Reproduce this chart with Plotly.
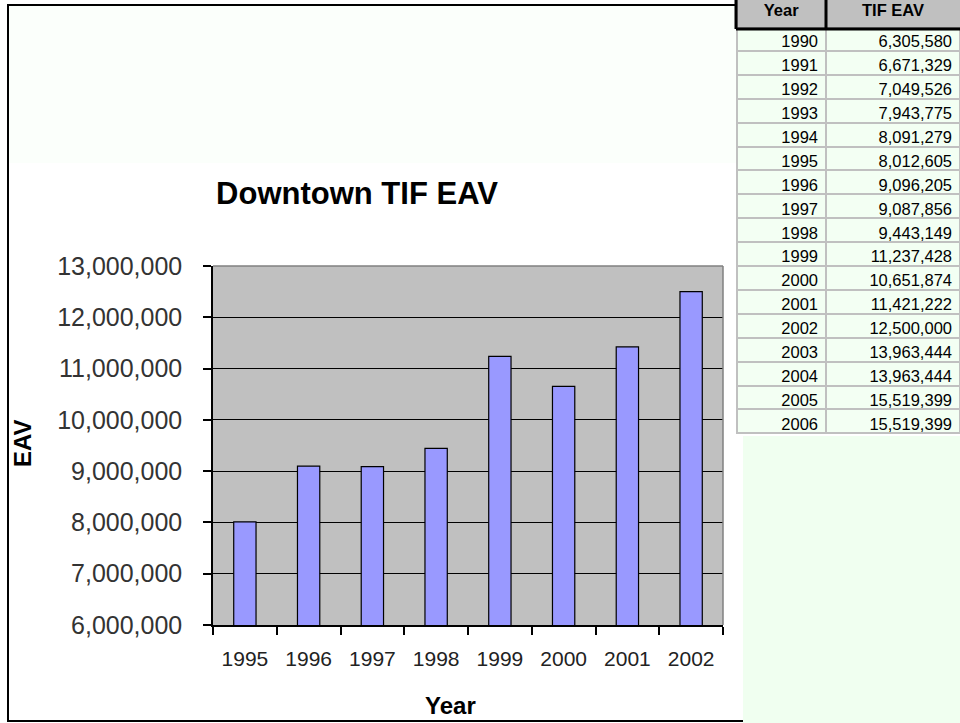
import plotly.graph_objects as go

# ---- data ----
table_columns = ["Year", "TIF EAV"]
table_years = [1990, 1991, 1992, 1993, 1994, 1995, 1996, 1997, 1998,
               1999, 2000, 2001, 2002, 2003, 2004, 2005, 2006]
table_eav = [6305580, 6671329, 7049526, 7943775, 8091279, 8012605, 9096205,
             9087856, 9443149, 11237428, 10651874, 11421222, 12500000,
             13963444, 13963444, 15519399, 15519399]

chart_years = ["1995", "1996", "1997", "1998", "1999", "2000", "2001", "2002"]
chart_eav = [8012605, 9096205, 9087856, 9443149, 11237428, 10651874, 11421222, 12500000]

y_ticks = [6000000, 7000000, 8000000, 9000000, 10000000, 11000000, 12000000, 13000000]

# figure is 7px taller than the window; the page is shifted up by OFF px
OFF = 7
W, H = 960, 723 + OFF
FONT = "Liberation Sans, Arial, sans-serif"


def px(x):
    return x / W


def py(y):
    # y: screen pixel from top of window
    return 1 - (y + OFF) / H


fig = go.Figure()

fig.add_trace(go.Bar(
    x=chart_years, y=chart_eav,
    marker=dict(color="#9999ff", line=dict(color="black", width=1.2)),
    width=0.35,
    xaxis="x", yaxis="y",
    showlegend=False, hoverinfo="x+y",
))

fig.add_trace(go.Table(
    domain=dict(x=[px(737), 1.0], y=[py(442), 1.0]),
    columnwidth=[89, 134],
    header=dict(
        values=[f"<b>{c}</b>" for c in table_columns],
        fill_color="#c0c0c0",
        line=dict(color="#9a9a9a", width=1),
        align="center",
        font=dict(family=FONT, size=16.5, color="black"),
        height=30,
    ),
    cells=dict(
        values=[[str(y) for y in table_years], [f"{v:,}" for v in table_eav]],
        fill_color="#f3fff3",
        line=dict(color="#c0c0c0", width=2),
        align="right",
        font=dict(family=FONT, size=16.5, color="black"),
        height=23.9,
    ),
))

shapes = [
    # faint green band at top of chart (sheet behind)
    dict(type="rect", xref="paper", yref="paper", x0=px(9), x1=px(737), y0=py(163), y1=py(6),
         fillcolor="#fbfffb", line=dict(width=0), layer="below"),
    # green sheet region to the right of chart
    dict(type="rect", xref="paper", yref="paper", x0=px(743), x1=1.0, y0=0, y1=py(436),
         fillcolor="#f0fff0", line=dict(width=0), layer="below"),
    # chart frame
    dict(type="line", xref="paper", yref="paper", x0=px(8), x1=px(8), y0=py(721), y1=py(4),
         line=dict(color="black", width=2)),
    dict(type="line", xref="paper", yref="paper", x0=px(7), x1=px(737), y0=py(5), y1=py(5),
         line=dict(color="black", width=2)),
    dict(type="line", xref="paper", yref="paper", x0=px(7), x1=px(743), y0=py(721), y1=py(721),
         line=dict(color="black", width=2)),
    # plot area top/right border (grey)
    dict(type="line", xref="paper", yref="paper", x0=px(213), x1=px(723), y0=py(266), y1=py(266),
         line=dict(color="#808080", width=1.5)),
    dict(type="line", xref="paper", yref="paper", x0=px(723), x1=px(723), y0=py(625), y1=py(266),
         line=dict(color="#808080", width=1.5)),
    # table header thick borders
    dict(type="line", xref="paper", yref="paper", x0=px(736), x1=1.0, y0=py(29), y1=py(29),
         line=dict(color="black", width=3)),
    dict(type="line", xref="paper", yref="paper", x0=px(736), x1=px(736), y0=py(29), y1=1.0,
         line=dict(color="black", width=3)),
    dict(type="line", xref="paper", yref="paper", x0=px(826), x1=px(826), y0=py(29), y1=1.0,
         line=dict(color="black", width=3)),
]

annotations = [
    dict(text="<b>EAV</b>", xref="paper", yref="paper", x=px(22), y=py(443),
         textangle=-90, showarrow=False, font=dict(family=FONT, size=24, color="black"),
         xanchor="center", yanchor="middle"),
    dict(text="<b>Year</b>", xref="paper", yref="paper", x=px(450), y=py(705),
         showarrow=False, font=dict(family=FONT, size=24, color="black"),
         xanchor="center", yanchor="middle"),
]

fig.update_layout(
    width=W, height=H,
    margin=dict(l=0, r=0, t=0, b=0, pad=0, autoexpand=False),
    paper_bgcolor="white",
    plot_bgcolor="#c0c0c0",
    font=dict(family=FONT, color="black"),
    title=dict(text="<b>Downtown TIF EAV</b>", x=px(357), y=py(193),
               xanchor="center", yanchor="middle",
               font=dict(family=FONT, size=31, color="black")),
    xaxis=dict(
        domain=[px(213), px(723)],
        type="category",
        tickson="boundaries",
        ticks="outside", ticklen=8, tickcolor="black", tickwidth=1.5,
        showline=True, linecolor="black", linewidth=1.5,
        showgrid=False, automargin=False,
        tickfont=dict(family=FONT, size=21, color="#222"),
        ticklabelstandoff=14,
        anchor="y",
    ),
    yaxis=dict(
        domain=[py(625), py(266)],
        range=[6000000, 13000000],
        tickvals=y_ticks,
        tickformat=",d",
        ticks="outside", ticklen=8, tickcolor="black", tickwidth=1.5,
        showline=True, linecolor="black", linewidth=1.5,
        showgrid=True, gridcolor="black", gridwidth=1.2,
        zeroline=False, automargin=False,
        tickfont=dict(family=FONT, size=25, color="#333"),
        ticklabelstandoff=16,
        anchor="x",
    ),
    bargap=0.65,
    shapes=shapes,
    annotations=annotations,
)

fig.write_html(
    "out.html",
    config={"displayModeBar": False},
    post_script=(
        "document.documentElement.style.overflow='hidden';"
        "document.body.style.overflow='hidden';"
        "document.body.style.margin='0';"
        f"document.body.style.marginTop='-{OFF}px';"
    ),
)
